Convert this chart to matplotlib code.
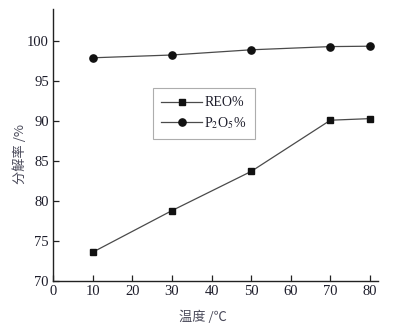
import matplotlib
matplotlib.use("Agg")
import matplotlib.pyplot as plt

temp = [10, 30, 50, 70, 80]
reo = [73.6, 78.8, 83.7, 90.1, 90.3]
p2o5 = [97.9, 98.25, 98.9, 99.3, 99.35]
xticks = [0, 10, 20, 30, 40, 50, 60, 70, 80]
yticks = [70, 75, 80, 85, 90, 95, 100]

plt.rcParams["font.family"] = ["Liberation Serif", "Noto Sans CJK SC"]
plt.rcParams["mathtext.fontset"] = "stix"
TXT = "#1c1c2a"
cjk = ["Noto Sans CJK SC", "DejaVu Sans"]

fig = plt.figure(figsize=(3.97, 3.33), dpi=100)
ax = fig.add_axes([0.1335, 0.156, 0.8185, 0.817])
ax.plot(temp, reo, color="#4a4a4a", lw=0.9, marker="s", ms=4.6,
        mfc="#111111", mec="#111111", label="REO%")
ax.plot(temp, p2o5, color="#4a4a4a", lw=0.9, marker="o", ms=5.2,
        mfc="#111111", mec="#111111", label=r"P$_2$O$_5$%")
ax.set_xlim(0, 82); ax.set_ylim(70, 104)
ax.set_xticks(xticks); ax.set_yticks(yticks)
for s in ("top", "right"):
    ax.spines[s].set_visible(False)
for s in ("left", "bottom"):
    ax.spines[s].set_color("#222222"); ax.spines[s].set_linewidth(1.0)
ax.tick_params(direction="in", length=4, width=0.9, labelsize=10.5,
               colors="#222222", labelcolor=TXT, pad=3)
ax.set_xlabel("温度 /℃", family=cjk, fontsize=9.5, color="#4a4a5a")
ax.set_ylabel("分解率 /%", family=cjk, fontsize=9.5, color="#4a4a5a")
ax.xaxis.set_label_coords(0.46, -0.11)
ax.yaxis.set_label_coords(-0.08, 0.467)
leg = ax.legend(loc="upper left", bbox_to_anchor=(0.308, 0.709), fontsize=10,
                fancybox=False, edgecolor="#999999", handlelength=2.9,
                borderpad=0.6, labelspacing=0.4, handletextpad=0.2,
                borderaxespad=0)
leg.get_frame().set_linewidth(0.8)
for t in leg.get_texts():
    t.set_color(TXT)
fig.savefig("out.png", dpi=100)
